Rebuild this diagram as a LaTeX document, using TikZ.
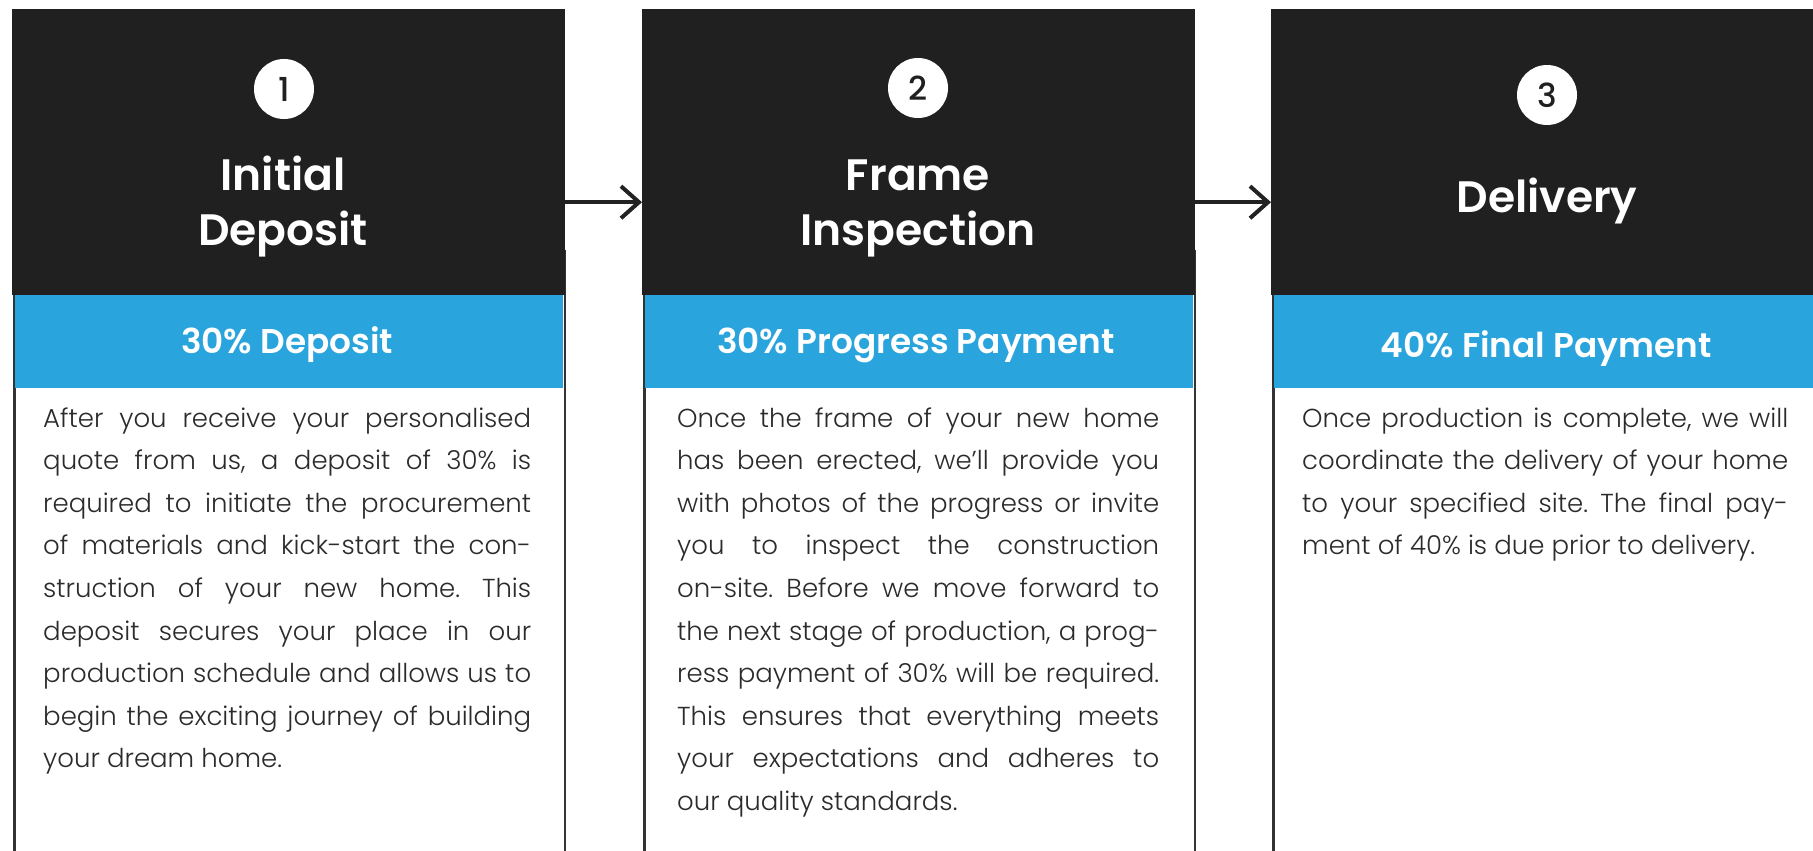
\documentclass[tikz,border=0pt]{standalone}
\usepackage{fontspec}
\usetikzlibrary{arrows.meta}
\newfontfamily\poplight{Poppins Light}
\newfontfamily\popmed{Poppins Medium}
\newfontfamily\popsb{Poppins SemiBold}
\definecolor{hdr}{HTML}{202020}
\definecolor{band}{HTML}{2AA4DD}
\definecolor{brd}{HTML}{333333}
\definecolor{bodytxt}{HTML}{2B2B2B}
\definecolor{arrc}{HTML}{222222}
\newlength\bodyw
\setlength\bodyw{488pt}
\newcommand{\jl}[1]{\hbox to\bodyw{#1}}
\newcommand{\lastl}[1]{\hbox to\bodyw{#1\hfil}}
\newcommand{\bodytext}[2][488pt]{\setlength\bodyw{#1}\parbox[t]{\bodyw}{\frenchspacing\poplight\fontsize{26}{42.6}\selectfont #2}}
\newcommand{\titletext}[1]{\parbox[t]{480pt}{\centering\popsb\fontsize{44}{55}\selectfont #1}}
\tikzset{
  x=1pt, y=-1pt,
  bodybox/.style={draw=brd, line width=2.7pt, fill=white, anchor=north west, inner sep=0pt,
    minimum width=550.3pt, minimum height=700pt},
  hdrbox/.style={fill=hdr, anchor=north west, inner sep=0pt, minimum width=553pt, minimum height=286pt},
  bandbox/.style={fill=band, anchor=north west, inner sep=0pt, minimum width=547.6pt, minimum height=93pt},
  numcirc/.style={circle, fill=white, minimum size=60pt, inner sep=0pt, text=hdr,
    font=\popmed\fontsize{33}{33}\selectfont},
  titlelbl/.style={anchor=base, inner sep=0pt, text=white},
  bandlbl/.style={anchor=base, inner sep=0pt, text=white, font=\popsb\fontsize{34.3}{35}\selectfont},
  bodylbl/.style={anchor=base west, inner sep=0pt, text=bodytxt},
  arr/.style={draw=arrc, line width=4.5pt, -{Straight Barb[length=18pt, width=32pt, line width=4pt]}}
}
\begin{document}
\begin{tikzpicture}
\useasboundingbox (0,0) rectangle (1813,851);
\clip (0,0) rectangle (1813,851);
% box 1
\node[bodybox] (b1) at (13.35,250) {};
\node[hdrbox] (h1) at (12,9) {};
\node[bandbox] (s1) at (14.7,295) {};
% box 2
\node[bodybox] (b2) at (643.35,250) {};
\node[hdrbox] (h2) at (642,9) {};
\node[bandbox] (s2) at (644.7,295) {};
% box 3
\node[bodybox] (b3) at (1272.35,250) {};
\node[hdrbox] (h3) at (1271,9) {};
\node[bandbox] (s3) at (1273.7,295) {};
% numbers
\node[numcirc] (n1) at (284,89) {1};
\node[numcirc] (n2) at (918,88) {2};
\node[numcirc] (n3) at (1547,95) {3};
% titles
\node[titlelbl] (t1) at (283,190) {\titletext{Initial\\Deposit}};
\node[titlelbl] (t2) at (918,190) {\titletext{Frame\\Inspection}};
\node[titlelbl] (t3) at (1547,212) {\titletext{Delivery}};
% band labels
\node[bandlbl] (l1) at (287,353) {30\% Deposit};
\node[bandlbl] (l2) at (916,353) {30\% Progress Payment};
\node[bandlbl] (l3) at (1546,357) {40\% Final Payment};
% body texts
\node[bodylbl] (p1) at (43,427) {\bodytext{%
\jl{After you receive your personalised}
\jl{quote from us, a deposit of 30\% is}
\jl{required to initiate the procurement}
\jl{of materials and kick-start the con-}
\jl{struction of your new home. This}
\jl{deposit secures your place in our}
\jl{production schedule and allows us to}
\jl{begin the exciting journey of building}
\lastl{your dream home.}}};
\node[bodylbl] (p2) at (677,427) {\bodytext[482pt]{%
\jl{Once the frame of your new home}
\jl{has been erected, we’ll provide you}
\jl{with photos of the progress or invite}
\jl{you to inspect the construction}
\jl{on-site. Before we move forward to}
\jl{the next stage of production, a prog-}
\jl{ress payment of 30\% will be required.}
\jl{This ensures that everything meets}
\jl{your expectations and adheres to}
\lastl{our quality standards.}}};
\node[bodylbl] (p3) at (1302,427) {\bodytext[486pt]{%
\jl{Once production is complete, we will}
\jl{coordinate the delivery of your home}
\jl{to your specified site. The final pay-}
\lastl{ment of 40\% is due prior to delivery.}}};
% arrows
\draw[arr] ([yshift=-50pt]h1.east) -- ([yshift=-50pt]h2.west);
\draw[arr] ([yshift=-50pt]h2.east) -- ([yshift=-50pt]h3.west);
\end{tikzpicture}
\end{document}
